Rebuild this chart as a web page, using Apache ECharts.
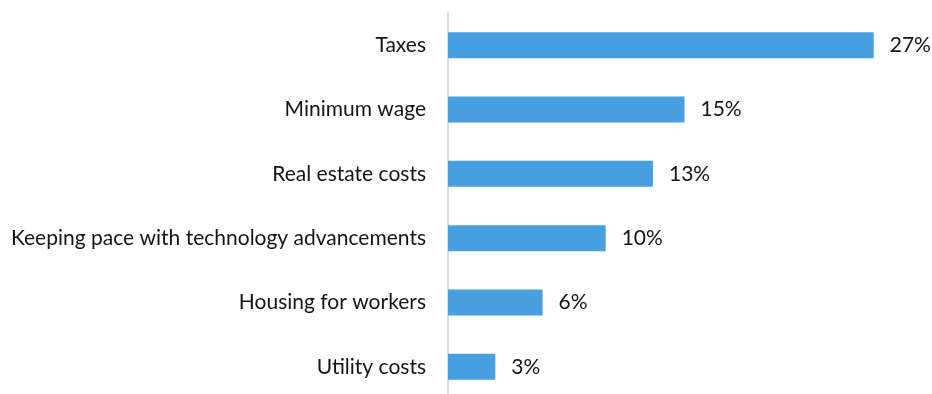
<!DOCTYPE html>
<html>
<head>
<meta charset="utf-8">
<script src="https://cdn.jsdelivr.net/npm/echarts@6/dist/echarts.min.js"></script>
<style>
  html, body { margin: 0; padding: 0; background: #ffffff; overflow: hidden; height: 394px; }
  #chart { width: 932px; height: 400px; }
</style>
</head>
<body>
<div id="chart"></div>
<script>
// Categories listed bottom to top (category axis is drawn upward)
var categories = [
  'Utility costs',
  'Housing for workers',
  'Keeping pace with technology advancements',
  'Real estate costs',
  'Minimum wage',
  'Taxes'
];
var shares = [3, 6, 10, 13, 15, 27];

var chart = echarts.init(document.getElementById('chart'));
var font = 'Lato, "Open Sans", sans-serif';

chart.setOption({
  animation: false,
  grid: { left: 448, top: 13, width: 473, height: 386, containLabel: false },
  xAxis: {
    type: 'value',
    min: 0,
    max: 30,
    show: false
  },
  yAxis: {
    type: 'category',
    data: categories,
    axisLine: { show: true, lineStyle: { color: '#d9d9d9', width: 2 } },
    axisTick: { show: false },
    axisLabel: {
      margin: 22,
      color: '#141414',
      fontFamily: font,
      fontSize: 21
    }
  },
  series: [{
    type: 'bar',
    data: shares,
    barWidth: 26,
    itemStyle: { color: '#479fe0' },
    label: {
      show: true,
      position: 'right',
      distance: 16,
      color: '#141414',
      fontFamily: font,
      fontSize: 21,
      formatter: function (p) { return p.value + '%'; }
    }
  }]
});
</script>
</body>
</html>
